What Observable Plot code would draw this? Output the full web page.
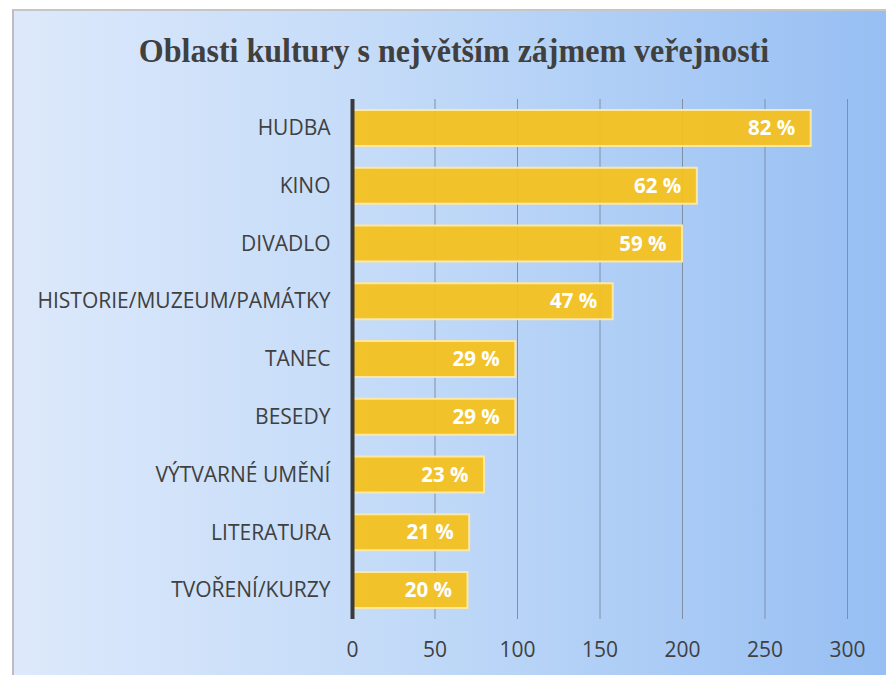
<!DOCTYPE html>
<html>
<head>
<meta charset="utf-8">
<script src="https://cdn.jsdelivr.net/npm/d3@7"></script>
<script src="https://cdn.jsdelivr.net/npm/@observablehq/plot@0.6"></script>
<style>
  html, body { margin: 0; padding: 0; width: 886px; height: 675px; overflow: hidden; background: #ffffff; }
  #frame { position: absolute; left: 12px; top: 9px; right: 0; bottom: 0;
    border-left: 2px solid #bdbdbd; border-top: 2px solid #c6c6c6;
    background: linear-gradient(to right, #dde9fb 0%, #c2daf8 45%, #97bff3 100%); }
  #title { position: absolute; left: 0; top: 31px; width: 908px; text-align: center;
    font-family: "Liberation Serif", "Times New Roman", serif; font-weight: bold;
    font-size: 33px; line-height: 40px; color: #404040; white-space: nowrap;
    transform: scaleX(0.97); transform-origin: 454px 0; }
  #chart { position: absolute; left: 0; top: 0; }
</style>
</head>
<body>
<div id="frame"></div>
<div id="title">Oblasti kultury s největším zájmem veřejnosti</div>
<div id="chart"></div>
<script>
const categories = ["HUDBA", "KINO", "DIVADLO", "HISTORIE/MUZEUM/PAMÁTKY", "TANEC", "BESEDY", "VÝTVARNÉ UMĚNÍ", "LITERATURA", "TVOŘENÍ/KURZY"];
const counts = [278, 209, 200, 158, 99, 99, 80, 71, 70];
const percents = [82, 62, 59, 47, 29, 29, 23, 21, 20];
const xTicks = [0, 50, 100, 150, 200, 250, 300];

const data = categories.map((c, i) => ({cat: c, count: counts[i], pct: percents[i]}));

const chart = Plot.plot({
  width: 886,
  height: 675,
  marginLeft: 352,
  marginRight: 39,
  marginTop: 99,
  marginBottom: 56,
  style: {background: "transparent", fontFamily: "'Open Sans', sans-serif", color: "#404040"},
  x: {domain: [0, 300], ticks: xTicks, label: null},
  y: {domain: categories, paddingInner: 0.377, paddingOuter: 0.19, round: false, label: null},
  marks: [
    Plot.ruleX(xTicks.slice(1), {stroke: "#7f90a6", strokeWidth: 1}),
    Plot.barX(data, {x: "count", y: "cat", fill: "#f4c11f", fillOpacity: 0.95, stroke: "#fce8a6", strokeWidth: 2}),
    Plot.ruleX([0], {stroke: "#3a3a3a", strokeWidth: 4}),
    Plot.text(data, {x: "count", y: "cat", text: d => d.pct + " %", textAnchor: "end", dx: -16,
      fill: "white", fontWeight: "bold", fontSize: 20.5}),
    Plot.axisY({tickSize: 0, tickPadding: 22, fontSize: 21, fill: "#404040", label: null}),
    Plot.axisX({ticks: xTicks, tickSize: 0, tickPadding: 23, fontSize: 21, fill: "#404040", label: null})
  ]
});
document.getElementById("chart").appendChild(chart);
</script>
</body>
</html>
